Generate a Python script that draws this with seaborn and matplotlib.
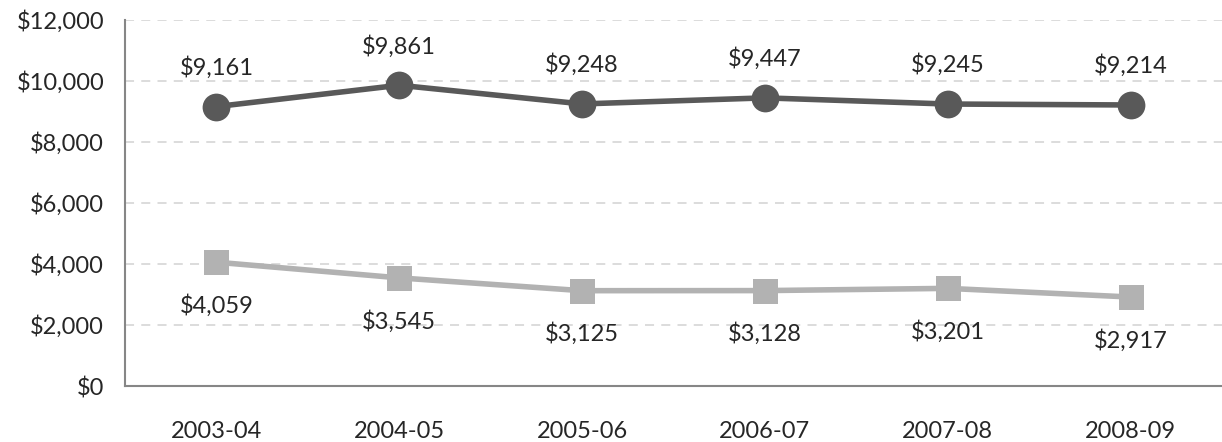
import matplotlib
matplotlib.use("Agg")
import matplotlib.pyplot as plt
import seaborn as sns
import pandas as pd

# data
years = ["2003-04", "2004-05", "2005-06", "2006-07", "2007-08", "2008-09"]
top_vals = [9161, 9861, 9248, 9447, 9245, 9214]
bottom_vals = [4059, 3545, 3125, 3128, 3201, 2917]

sns.set_style("white")
plt.rcParams['font.family'] = ['Lato', 'DejaVu Sans']

df = pd.DataFrame({"year": years, "top": top_vals, "bottom": bottom_vals})
df["x"] = range(len(years))

fig = plt.figure(figsize=(12.22, 4.42), dpi=100)
ax = fig.add_axes([125/1222, 56/442, 1 - 125/1222, (386 - 20)/442])

sns.lineplot(data=df, x="x", y="top", ax=ax, color="#595959", lw=4,
             marker="o", markersize=20, markeredgewidth=0, zorder=3)
sns.lineplot(data=df, x="x", y="bottom", ax=ax, color="#b2b2b2", lw=4,
             marker="s", markersize=18, markeredgewidth=0, zorder=3)

fs = 17
for i, v in enumerate(top_vals):
    ax.annotate(f"${v:,}", (i, v), xytext=(0, 20), textcoords="offset points",
                ha="center", va="bottom", fontsize=fs)
for i, v in enumerate(bottom_vals):
    ax.annotate(f"${v:,}", (i, v), xytext=(0, -23), textcoords="offset points",
                ha="center", va="top", fontsize=fs)

ax.set_xlim(-0.5, 5.5)
ax.set_ylim(0, 12000)
ax.set_yticks(range(0, 12001, 2000))
ax.set_yticklabels([f"${t:,}" for t in range(0, 12001, 2000)], fontsize=fs)
ax.set_xticks(range(len(years)))
ax.set_xticklabels(years, fontsize=fs)
ax.set_xticks([i - 0.5 for i in range(len(years) + 1)], minor=True)
ax.tick_params(axis="x", which="major", length=0, pad=25)
ax.tick_params(axis="x", which="minor", length=6, color="#868686", width=1.5)
ax.tick_params(axis="y", length=7, color="#868686", width=1.5, pad=8)
ax.set_xlabel("")
ax.set_ylabel("")

ax.yaxis.grid(True, ls=(0, (5, 4)), color="#d9d9d9", lw=1.3)
ax.set_axisbelow(True)
for s in ["top", "right"]:
    ax.spines[s].set_visible(False)
for s in ["left", "bottom"]:
    ax.spines[s].set_color("#868686")
    ax.spines[s].set_linewidth(1.5)

fig.savefig("out.png", dpi=100)
